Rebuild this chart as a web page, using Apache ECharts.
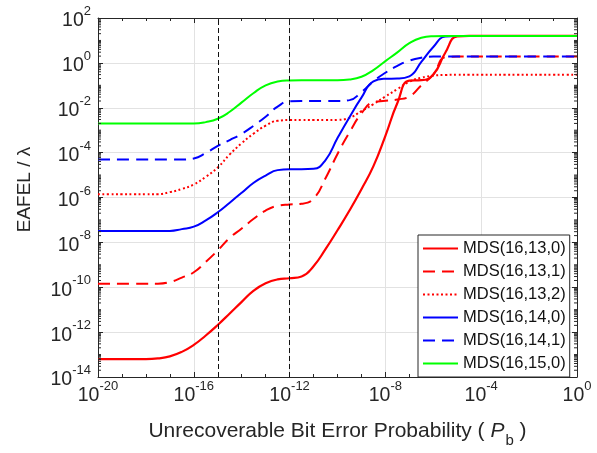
<!DOCTYPE html>
<html>
<head>
<meta charset="utf-8">
<script src="https://cdn.jsdelivr.net/npm/echarts@6/dist/echarts.min.js"></script>
<style>
  html, body { margin: 0; padding: 0; background: #fff; }
  #chart { width: 597px; height: 453px; }
</style>
</head>
<body>
<div id="chart"></div>
<script>
// both axes are log10: x = log10(Pb), y = log10(EAFEL / lambda)
const pbExp = [-20, -19.5, -19, -18.5, -18, -17.5, -17, -16.5, -16, -15.5, -15, -14.5, -14, -13.5,
  -13, -12.5, -12, -11.5, -11, -10.5, -10, -9.5, -9, -8.5, -8, -7.5, -7, -6.5, -6, -5.5, -5,
  -4.5, -4, -3.5, -3, -2.5, -2, -1.5, -1, -0.5, 0]

const mds16_13_0 = [-13.2, -13.2, -13.2, -13.2, -13.2, -13.17, -13.08, -12.88, -12.57, -12.15, -11.68,
  -11.17, -10.65, -10.15, -9.82, -9.65, -9.6, -9.52, -9.06, -8.3, -7.46, -6.58, -5.63, -4.6, -3.25,
  -1.79, -0.79, -0.77, -0.52, 0.45, 1.18, 1.2, 1.2, 1.2, 1.2, 1.2, 1.2, 1.2, 1.2, 1.2, 1.2]
const mds16_13_1 = [-9.84, -9.84, -9.84, -9.84, -9.84, -9.84, -9.77, -9.57, -9.33, -8.87, -8.36,
  -7.8, -7.38, -6.95, -6.58, -6.37, -6.31, -6.28, -6.05, -5.14, -4.06, -3.1, -2.25, -1.75, -1.69,
  -1.63, -1.5, -1.0, -0.52, 0.25, 0.28, 0.28, 0.28, 0.28, 0.28, 0.28, 0.28, 0.28, 0.28, 0.28, 0.28]
const mds16_13_2 = [-5.85, -5.85, -5.85, -5.85, -5.85, -5.85, -5.76, -5.62, -5.42, -5.08, -4.66,
  -4.08, -3.58, -3.15, -2.8, -2.58, -2.55, -2.55, -2.55, -2.55, -2.54, -2.45, -2.15, -1.84, -1.5,
  -1.17, -0.84, -0.66, -0.57, -0.54, -0.53, -0.53, -0.53, -0.53, -0.53, -0.53, -0.53, -0.53, -0.53, -0.53, -0.53]
const mds16_14_0 = [-7.49, -7.49, -7.49, -7.49, -7.49, -7.49, -7.49, -7.41, -7.3, -7.02, -6.66,
  -6.23, -5.79, -5.34, -5.02, -4.78, -4.74, -4.74, -4.72, -4.33, -3.35, -2.42, -1.55, -0.82, -0.71,
  -0.7, -0.6, 0.04, 0.71, 1.17, 1.2, 1.2, 1.2, 1.2, 1.2, 1.2, 1.2, 1.2, 1.2, 1.2, 1.2]
const mds16_14_1 = [-4.31, -4.31, -4.31, -4.31, -4.31, -4.31, -4.31, -4.31, -4.26, -4.02, -3.7,
  -3.44, -3.16, -2.8, -2.4, -1.95, -1.71, -1.7, -1.7, -1.7, -1.7, -1.66, -1.3, -0.82, -0.44,
  -0.13, 0.1, 0.23, 0.28, 0.28, 0.28, 0.28, 0.28, 0.28, 0.28, 0.28, 0.28, 0.28, 0.28, 0.28, 0.28]
const mds16_15_0 = [-2.7, -2.7, -2.7, -2.7, -2.7, -2.7, -2.7, -2.7, -2.7, -2.64, -2.49,
  -2.18, -1.76, -1.34, -1.0, -0.83, -0.78, -0.77, -0.77, -0.77, -0.77, -0.74, -0.62, -0.32, 0.08,
  0.47, 0.88, 1.12, 1.19, 1.2, 1.2, 1.2, 1.2, 1.2, 1.2, 1.2, 1.2, 1.2, 1.2, 1.2, 1.2]

// vertical reference lines (log10 Pb)
const refLines = [-15, -12]

const FONT = '"Liberation Sans", Arial, Helvetica, sans-serif'
const AX = '#262626'

const chart = echarts.init(document.getElementById('chart'), null, { renderer: 'canvas' })

// minor ticks of a log axis: 2..9 in each decade, plus the odd decades
const yMinor = []
for (let k = -14; k < 2; k++) {
  for (let m = 1; m < 10; m++) {
    if (m === 1 && k % 2 === 0) continue
    yMinor.push(k + Math.log10(m))
  }
}

const supLabel = {
  fontFamily: FONT,
  color: AX,
  formatter: (v) => '{b|10}{s|' + v + '}',
  rich: {
    b: { fontSize: 19.5, lineHeight: 20, padding: [6, 0, 0, 0], fontFamily: FONT, color: AX },
    s: { fontSize: 13, lineHeight: 13, padding: [0, 0, 13, 0], fontFamily: FONT, color: AX }
  }
}

function pairs(ys) {
  return pbExp.map((x, i) => [x, ys[i]])
}

function line(name, ys, color, type, width) {
  return {
    name,
    type: 'line',
    data: pairs(ys),
    symbol: 'none',
    smooth: 0.5,
    lineStyle: { color, width: width || 2, type },
    itemStyle: { color }
  }
}

const series = [
  line('MDS(16,13,0)', mds16_13_0, '#ff0000', 'solid', 2.2),
  line('MDS(16,13,1)', mds16_13_1, '#ff0000', [12, 7]),
  line('MDS(16,13,2)', mds16_13_2, '#ff0000', [2, 2.5]),
  line('MDS(16,14,0)', mds16_14_0, '#0000ff', 'solid'),
  line('MDS(16,14,1)', mds16_14_1, '#0000ff', [12, 7]),
  line('MDS(16,15,0)', mds16_15_0, '#00ff00', 'solid')
]
series[0].markLine = {
  silent: true,
  symbol: 'none',
  label: { show: false },
  lineStyle: { color: '#111', width: 1, type: [5, 3] },
  data: refLines.map((v) => ({ xAxis: v }))
}

// small log-decade ticks on the left and right frame
series.push({
  type: 'custom',
  silent: true,
  clip: false,
  z: 5,
  data: yMinor.map((v) => [-20, v]),
  renderItem: (params, api) => {
    const v = api.value(1)
    const l = api.coord([-20, v])
    const r = api.coord([0, v])
    const style = { stroke: AX, lineWidth: 1 }
    return {
      type: 'group',
      children: [
        { type: 'line', shape: { x1: l[0], y1: l[1], x2: l[0] + 3, y2: l[1] }, style },
        { type: 'line', shape: { x1: r[0] - 3, y1: r[1], x2: r[0], y2: r[1] }, style }
      ]
    }
  }
})

const option = {
  animation: false,
  backgroundColor: '#fff',
  grid: { left: 98, right: 20, top: 18, bottom: 74 },
  legend: {
    data: series.slice(0, 6).map((s) => s.name),
    orient: 'vertical',
    left: 418,
    top: 235,
    padding: [5, 4, 5, 4],
    itemGap: 6,
    itemWidth: 35,
    itemHeight: 14,
    backgroundColor: '#fff',
    borderColor: AX,
    borderWidth: 1,
    borderRadius: 0,
    itemStyle: { color: 'rgba(0,0,0,0)', borderWidth: 0, opacity: 0 },
    textStyle: { fontFamily: FONT, fontSize: 16.5, lineHeight: 16, color: '#111' }
  },
  xAxis: [
    {
      type: 'value', min: -20, max: 0, interval: 4, position: 'bottom',
      name: '{t|Unrecoverable Bit Error Probability ( }{i|P}{sub|b}{t| )}',
      nameLocation: 'middle',
      nameGap: 44,
      nameTextStyle: {
        rich: {
          t: { fontFamily: FONT, fontSize: 21, lineHeight: 22, verticalAlign: 'top', color: AX },
          i: { fontFamily: FONT, fontSize: 21, lineHeight: 22, verticalAlign: 'top', fontStyle: 'italic', color: AX },
          sub: { fontFamily: FONT, fontSize: 15, lineHeight: 15, verticalAlign: 'top', padding: [12, 0, 0, 1], color: AX }
        }
      },
      axisLine: { onZero: false, lineStyle: { color: AX, width: 1 } },
      axisTick: { inside: true, length: 5, lineStyle: { color: AX } },
      minorTick: { show: true, splitNumber: 4, length: 3, lineStyle: { color: AX } },
      axisLabel: Object.assign({ margin: 6 }, supLabel),
      splitLine: { show: true, lineStyle: { color: '#e2e2e2', width: 1 } }
    },
    {
      type: 'value', min: -20, max: 0, interval: 4, position: 'top',
      axisLine: { onZero: false, lineStyle: { color: AX, width: 1 } },
      axisTick: { inside: true, length: 5, lineStyle: { color: AX } },
      minorTick: { show: true, splitNumber: 4, length: 3, lineStyle: { color: AX } },
      axisLabel: { show: false },
      splitLine: { show: false }
    }
  ],
  yAxis: [
    {
      type: 'value', min: -14, max: 2, interval: 2, position: 'left',
      name: 'EAFEL / λ',
      nameLocation: 'middle',
      nameGap: 64,
      nameTextStyle: { fontFamily: FONT, fontSize: 19, color: AX, padding: [0, 0, 0, 16] },
      axisLine: { onZero: false, lineStyle: { color: AX, width: 1 } },
      axisTick: { inside: true, length: 5, lineStyle: { color: AX } },
      axisLabel: Object.assign({ margin: 7 }, supLabel),
      splitLine: { show: true, lineStyle: { color: '#e2e2e2', width: 1 } }
    },
    {
      type: 'value', min: -14, max: 2, interval: 2, position: 'right',
      axisLine: { onZero: false, lineStyle: { color: AX, width: 1 } },
      axisTick: { inside: true, length: 5, lineStyle: { color: AX } },
      axisLabel: { show: false },
      splitLine: { show: false }
    }
  ],
  series
}

chart.setOption(option)
window.addEventListener('resize', () => chart.resize())
</script>
</body>
</html>
